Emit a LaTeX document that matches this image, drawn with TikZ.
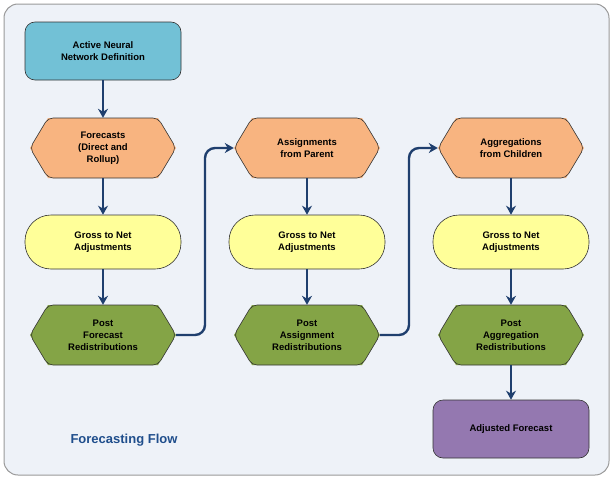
\documentclass[tikz,border=0pt]{standalone}
\usepackage{fontspec}
\setmainfont{Liberation Sans}
\usetikzlibrary{arrows.meta}
\definecolor{bg}{HTML}{EEF2F8}
\definecolor{cblue}{HTML}{72C1D6}
\definecolor{corange}{HTML}{F8B480}
\definecolor{cyellow}{HTML}{FFFF99}
\definecolor{cgreen}{HTML}{84A446}
\definecolor{cpurple}{HTML}{9478B0}
\definecolor{navy}{HTML}{1F3F6E}
\definecolor{titleblue}{HTML}{1F4E8C}
\tikzset{x=1pt,y=-1pt,
 lbl/.style={font=\bfseries\fontsize{9.5}{12}\selectfont,align=center,inner sep=0pt},
 rbox/.style={lbl,draw=black!80,line width=0.6pt,rounded corners=10pt,minimum width=156pt,minimum height=58pt},
 stad/.style={lbl,draw=black!80,line width=0.6pt,fill=cyellow,rounded corners=26pt,minimum width=156pt,minimum height=54pt},
 hexshape/.style={draw=black!80,line width=0.6pt,rounded corners=5pt},
 ghost/.style={lbl,minimum width=146pt,minimum height=60pt},
 arr/.style={draw=navy,line width=2.4pt,-{Stealth[length=9pt,width=10pt]}}}
\newcommand{\hexa}[5]{% name, cx, cy, fill, text
 \fill[#4] (#2-73,#3) -- (#2-55,#3-30) -- (#2+55,#3-30) -- (#2+73,#3) -- (#2+55,#3+30) -- (#2-55,#3+30) -- cycle;
 \draw[hexshape] (#2-73,#3) -- (#2-55,#3-30) -- (#2+55,#3-30) -- (#2+73,#3) -- (#2+55,#3+30) -- (#2-55,#3+30) -- cycle;
 \node[ghost] (#1) at (#2,#3) {#5};}
\begin{document}
\begin{tikzpicture}
\useasboundingbox (0,0) rectangle (613,479);
\draw[fill=bg,draw=gray!80,line width=1pt,rounded corners=14pt] (4,4) rectangle (609,475);
\node[rbox,fill=cblue] (a) at (103,51) {Active Neural\\Network Definition};
\hexa{f1}{103}{148}{corange}{Forecasts\\(Direct and\\Rollup)}
\node[stad] (g1) at (103,242) {Gross to Net\\Adjustments};
\hexa{p1}{103}{335}{cgreen}{Post\\Forecast\\Redistributions}
\hexa{f2}{307}{148}{corange}{Assignments\\from Parent}
\node[stad] (g2) at (307,242) {Gross to Net\\Adjustments};
\hexa{p2}{307}{335}{cgreen}{Post\\Assignment\\Redistributions}
\hexa{f3}{511}{148}{corange}{Aggregations\\from Children}
\node[stad] (g3) at (511,242) {Gross to Net\\Adjustments};
\hexa{p3}{511}{335}{cgreen}{Post\\Aggregation\\Redistributions}
\node[rbox,fill=cpurple] (z) at (511,429) {Adjusted Forecast};
\node[font=\bfseries\fontsize{13}{15}\selectfont,text=titleblue,anchor=west] (t) at (67,440) {Forecasting Flow};
\path[arr] (a) -- (f1);
\path[arr] (f1) -- (g1);
\path[arr] (g1) -- (p1);
\path[arr] (f2) -- (g2);
\path[arr] (g2) -- (p2);
\path[arr] (f3) -- (g3);
\path[arr] (g3) -- (p3);
\path[arr] (p3) -- (z);
\coordinate (c1) at (205,335);
\coordinate (c2) at (409,335);
\path[arr,rounded corners=10pt] (p1.east) -- (c1) |- (f2.west);
\path[arr,rounded corners=10pt] (p2.east) -- (c2) |- (f3.west);
\end{tikzpicture}
\end{document}
